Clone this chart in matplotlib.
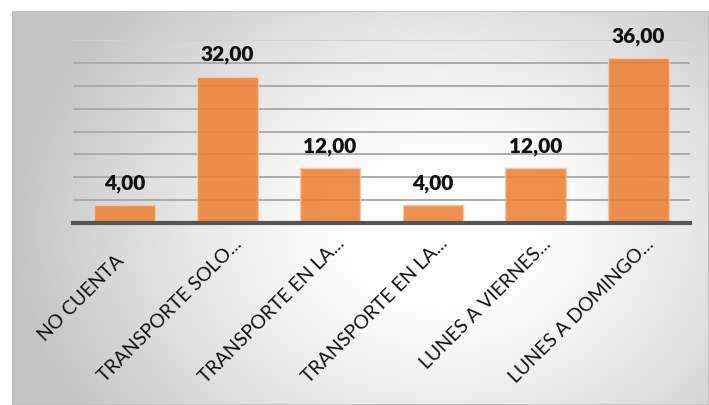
import numpy as np
import matplotlib.pyplot as plt
from matplotlib.patches import Rectangle

categories = ["NO CUENTA", "TRANSPORTE SOLO...", "TRANSPORTE EN LA...",
              "TRANSPORTE EN LA...", "LUNES A VIERNES...", "LUNES A DOMINGO..."]
values = [4, 32, 12, 4, 12, 36]

plt.rcParams['font.family'] = ['Lato', 'DejaVu Sans']

W, H = 709, 406
fig = plt.figure(figsize=(W / 100, H / 100), dpi=100)
fig.patch.set_facecolor('white')

# chart area with a radial grey-to-white fill (pixel grid, row 0 = top)
bg = fig.add_axes([12 / W, 0, (W - 12) / W, (H - 12) / H])
py, px = np.mgrid[12:H, 12:W].astype(float)
r = np.sqrt(((px - 440) / 430) ** 2 + ((py - 230) / 340) ** 2)
t = np.clip((r - 0.2) / 0.8, 0, 1)
shade = 1.0 - 0.23 * t ** 1.2
bg.imshow(np.dstack([shade] * 3), extent=[0, 1, 0, 1], aspect='auto',
          interpolation='bilinear')
bg.add_patch(Rectangle((0, 0), 1, 1, fill=False, edgecolor='#BDBDBD', lw=1.2,
                       transform=bg.transAxes))
bg.set_axis_off()

ax = fig.add_axes([73 / W, (H - 224) / H, (690 - 73) / W, (224 - 41) / H])
ax.set_facecolor('none')
x = np.arange(len(values))
ax.bar(x, values, width=0.59, color='#ED7D31', alpha=0.85,
       edgecolor='#F8CBA8', linewidth=1.0, zorder=3)

ax.set_xlim(-0.5, len(values) - 0.5)
ax.set_ylim(0, 40)
ax.set_yticks(np.arange(5, 41, 5))
ax.yaxis.grid(True, color='#ABABAB', linewidth=1.4, zorder=0)
ax.get_ygridlines()[-1].set_color('#D0D0D0')
ax.tick_params(left=False, bottom=False, labelleft=False, labelbottom=False)
for s in ['left', 'right', 'top']:
    ax.spines[s].set_visible(False)
ax.spines['bottom'].set_color('#555555')
ax.spines['bottom'].set_linewidth(3.0)
ax.spines['bottom'].set_zorder(4)

for i, v in enumerate(values):
    ax.annotate(f"{v:.2f}".replace('.', ','), xy=(i, v), xytext=(0, 12),
                textcoords='offset points', ha='center', va='baseline',
                fontsize=15, fontweight='heavy', color='#111111')

# rotated category labels, anchored at their end
label_shift = [(0.8, -27), (11.5, -15), (11.5, -15), (11.5, -15), (11.5, -15), (11.5, -15)]
for i, (lab, (dx, dy)) in enumerate(zip(categories, label_shift)):
    ax.annotate(lab, xy=(i, 0), xytext=(dx, dy), textcoords='offset points',
                ha='right', va='baseline', rotation=45, rotation_mode='anchor',
                fontsize=14, color='#111111', annotation_clip=False)

fig.savefig('out.png', dpi=100)
